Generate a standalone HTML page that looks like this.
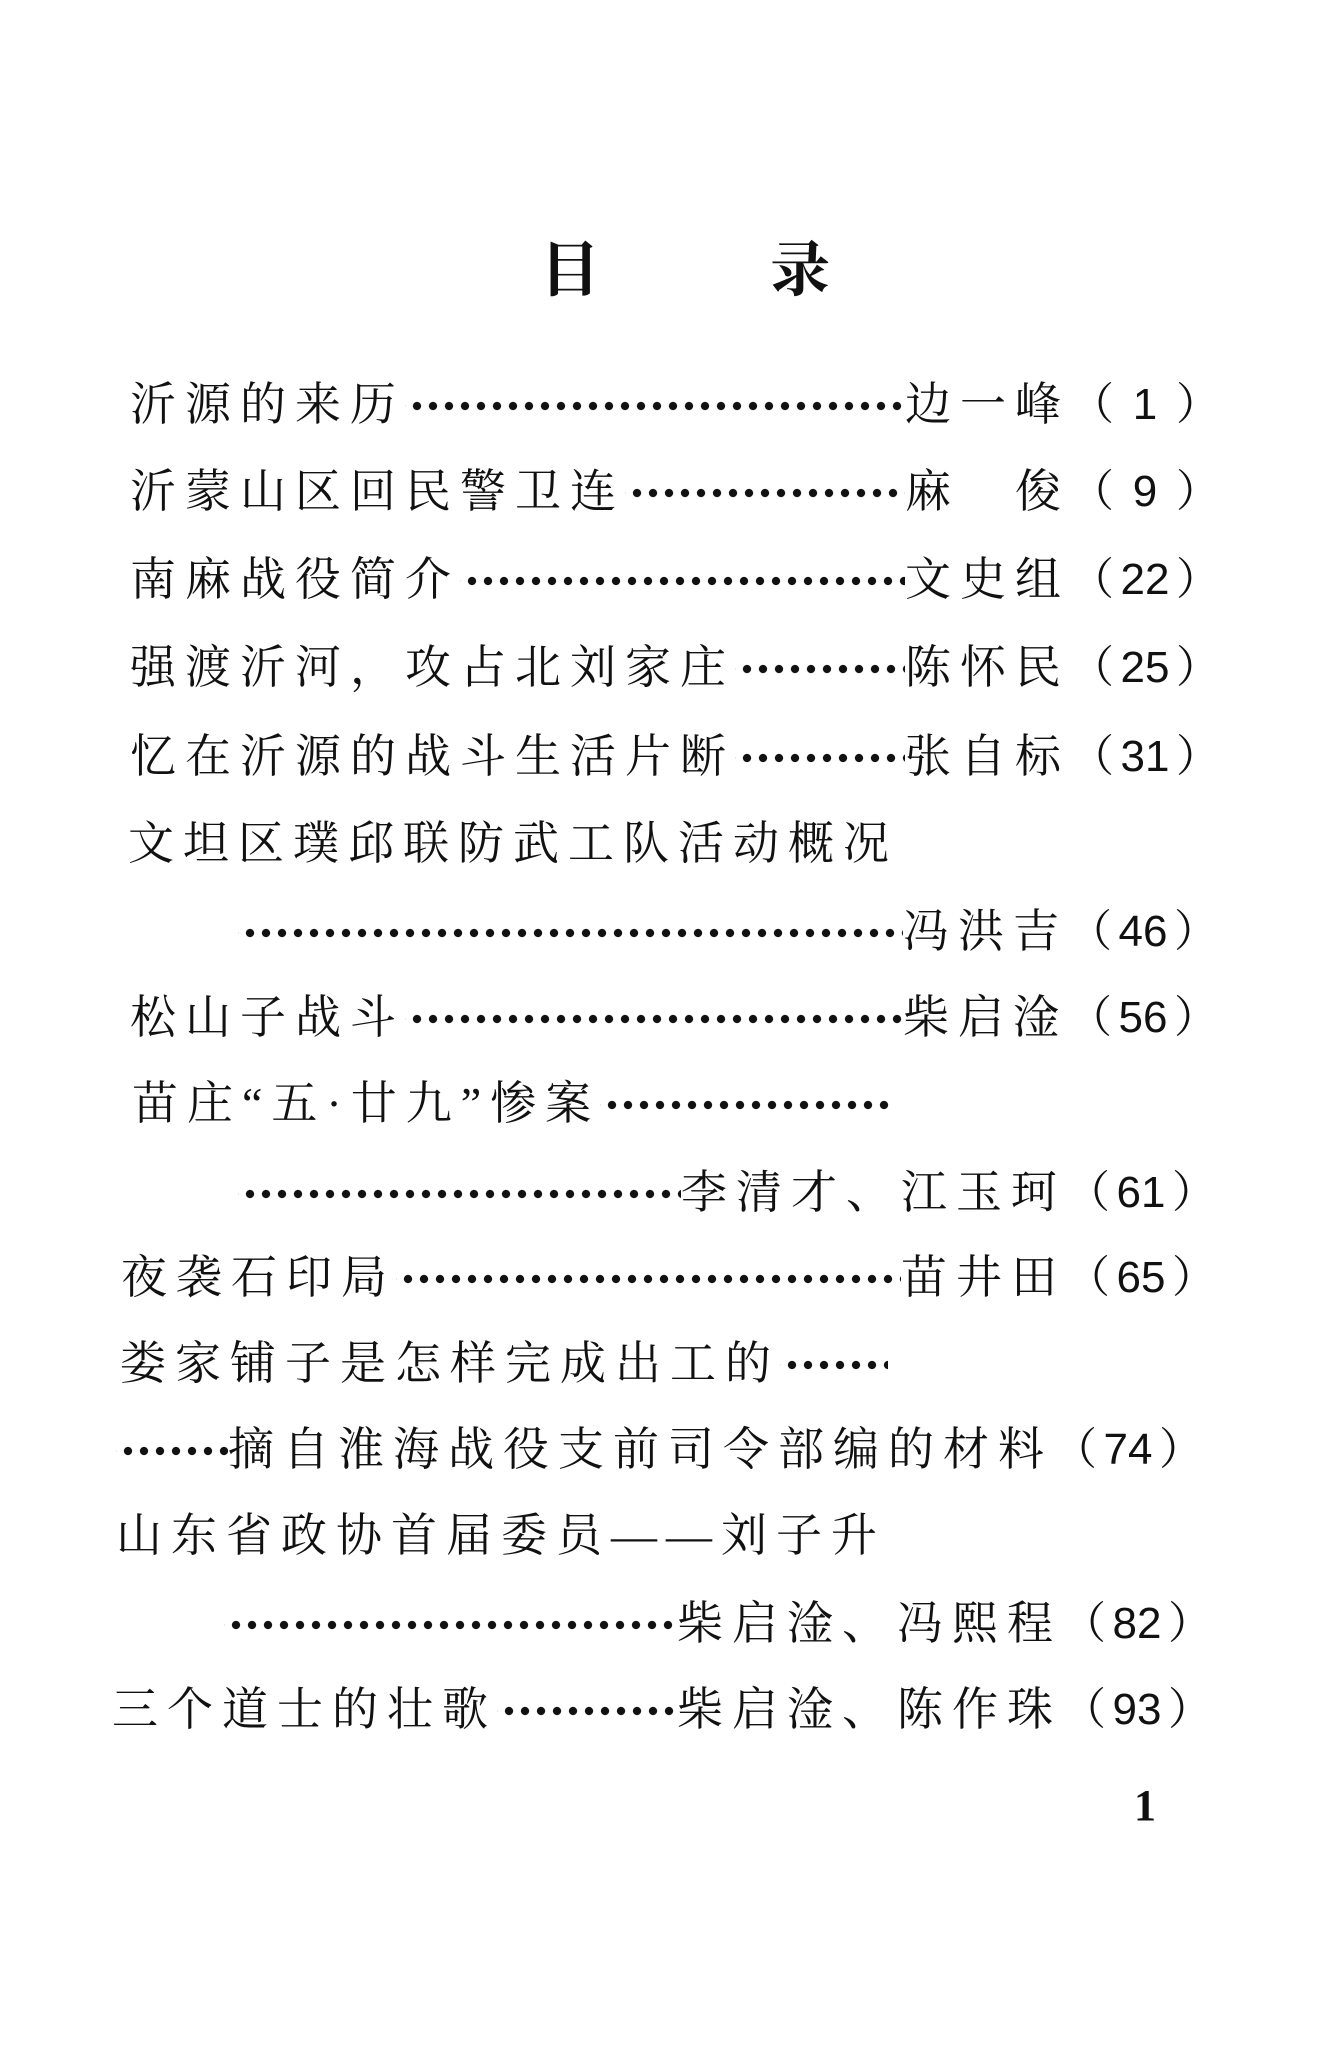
<!DOCTYPE html>
<html><head><meta charset="utf-8"><style>
body{margin:0;background:#fff;}
.page{position:relative;width:1320px;height:2058px;overflow:hidden;background:#fff;color:#111;
font-family:"Liberation Serif","Noto Serif CJK SC",serif;}
.t{position:absolute;top:238px;font-size:60px;font-weight:bold;line-height:66px;}
.r{position:absolute;height:60px;line-height:60px;display:flex;align-items:center;font-size:46px;white-space:nowrap;}
.l{letter-spacing:9px;}
.d,.dd{height:60px;background-image:radial-gradient(circle,#111 3.8px,transparent 4.4px);
background-size:16px 10px;background-repeat:repeat-x;background-position:4px 26px;}
.d{flex:1;min-width:10px;}
.a{letter-spacing:9px;}
.p{display:inline-flex;justify-content:space-between;width:150px;font-family:"Liberation Sans","Noto Sans CJK SC",sans-serif;font-size:44px;}
.p span:first-child,.p span:last-child{font-family:"Liberation Serif","Noto Serif CJK SC",serif;}
.pn{position:absolute;left:1134px;top:1780px;font-size:44px;font-weight:bold;}
</style></head><body><div class="page">
<div class="t" style="left:540px">目</div>
<div class="t" style="left:770px">录</div>

<div class="r" style="top:375px;left:130px;right:100px"><span class="l">沂源的来历</span><span class="d"></span><span class="a">边一峰</span><span class="p"><span>（</span><span>1</span><span>）</span></span></div>
<div class="r" style="top:462px;left:130px;right:100px"><span class="l">沂蒙山区回民警卫连</span><span class="d"></span><span class="a">麻　俊</span><span class="p"><span>（</span><span>9</span><span>）</span></span></div>
<div class="r" style="top:550px;left:130px;right:100px"><span class="l">南麻战役简介</span><span class="d"></span><span class="a">文史组</span><span class="p"><span>（</span><span>22</span><span>）</span></span></div>
<div class="r" style="top:638px;left:130px;right:100px"><span class="l">强渡沂河，攻占北刘家庄</span><span class="d"></span><span class="a">陈怀民</span><span class="p"><span>（</span><span>25</span><span>）</span></span></div>
<div class="r" style="top:727px;left:130px;right:100px"><span class="l">忆在沂源的战斗生活片断</span><span class="d"></span><span class="a">张自标</span><span class="p"><span>（</span><span>31</span><span>）</span></span></div>
<div class="r" style="top:814px;left:128px"><span class="l">文坦区璞邱联防武工队活动概况</span></div>
<div class="r" style="top:902px;left:238px;right:102px"><span class="d"></span><span class="a">冯洪吉</span><span class="p"><span>（</span><span>46</span><span>）</span></span></div>
<div class="r" style="top:988px;left:130px;right:102px"><span class="l">松山子战斗</span><span class="d"></span><span class="a">柴启淦</span><span class="p"><span>（</span><span>56</span><span>）</span></span></div>
<div class="r" style="top:1074px;left:132px;width:760px"><span class="l">苗庄“五·廿九”惨案</span><span class="d"></span></div>
<div class="r" style="top:1163px;left:238px;right:104px"><span class="d"></span><span class="a">李清才、江玉珂</span><span class="p"><span>（</span><span>61</span><span>）</span></span></div>
<div class="r" style="top:1248px;left:121px;right:104px"><span class="l">夜袭石印局</span><span class="d"></span><span class="a">苗井田</span><span class="p"><span>（</span><span>65</span><span>）</span></span></div>
<div class="r" style="top:1334px;left:120px;width:768px"><span class="l">娄家铺子是怎样完成出工的</span><span class="d"></span></div>
<div class="r" style="top:1420px;left:116px;right:104px"><span class="dd" style="width:112px"></span><span class="a">摘自淮海战役支前司令部编的材料</span><span class="p"><span>（</span><span>74</span><span>）</span></span></div>
<div class="r" style="top:1506px;left:116px"><span class="l">山东省政协首届委员——刘子升</span></div>
<div class="r" style="top:1594px;left:224px;right:108px"><span class="d"></span><span class="a">柴启淦、冯熙程</span><span class="p"><span>（</span><span>82</span><span>）</span></span></div>
<div class="r" style="top:1680px;left:112px;right:108px"><span class="l">三个道士的壮歌</span><span class="d"></span><span class="a">柴启淦、陈作珠</span><span class="p"><span>（</span><span>93</span><span>）</span></span></div>
<div class="pn">1</div>
</div></body></html>
